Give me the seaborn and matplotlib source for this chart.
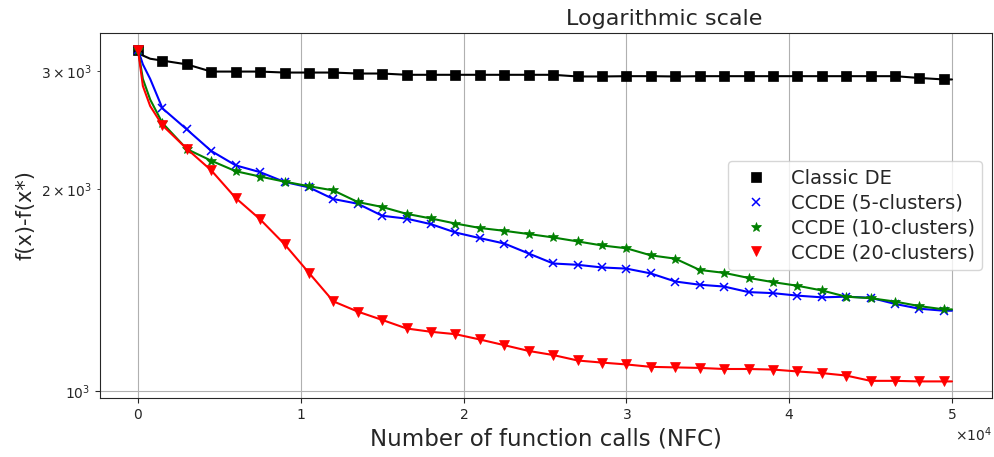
import numpy as np
import matplotlib
matplotlib.use("Agg")
import matplotlib.pyplot as plt
import seaborn as sns
from matplotlib.lines import Line2D

# Checkpoints (number of function calls) at which the best error is recorded
nfc_marks = np.arange(0, 49501, 1500)
nfc_early = [300, 750]
nfc_final = 50000

# Best-so-far error f(x) - f(x*) at every checkpoint
classic_de = [3230, 3110, 3070, 2995, 2995, 2995, 2985, 2985, 2985, 2975,
              2975, 2962, 2962, 2962, 2962, 2962, 2962, 2962, 2945, 2945,
              2948, 2948, 2945, 2948, 2948, 2948, 2948, 2948, 2948, 2948,
              2948, 2948, 2930, 2915]
classic_de_early = [3165, 3130]

ccde_5 = [3230, 2640, 2455, 2280, 2170, 2120, 2050, 2012, 1933, 1902,
          1825, 1807, 1773, 1723, 1690, 1659, 1603, 1549, 1542, 1528,
          1522, 1497, 1456, 1440, 1431, 1404, 1399, 1387, 1379, 1382,
          1377, 1348, 1326, 1317]
ccde_5_early = [3070, 2920]

ccde_10 = [3230, 2510, 2295, 2205, 2127, 2088, 2052, 2020, 1991, 1913,
           1881, 1837, 1808, 1777, 1750, 1733, 1714, 1694, 1671, 1648,
           1632, 1593, 1575, 1515, 1500, 1474, 1453, 1435, 1412, 1382,
           1375, 1359, 1338, 1323]
ccde_10_early = [2920, 2720]

ccde_20 = [3230, 2490, 2297, 2133, 1940, 1803, 1655, 1500, 1360, 1313,
           1276, 1239, 1225, 1215, 1193, 1170, 1147, 1131, 1110, 1102,
           1095, 1086, 1084, 1082, 1078, 1078, 1076, 1069, 1063, 1054,
           1035, 1035, 1033, 1033]
ccde_20_early = [2850, 2660]

labels = ["Classic DE", "CCDE (5-clusters)", "CCDE (10-clusters)", "CCDE (20-clusters)"]
colors = ["black", "blue", "green", "red"]
markers = ["s", "x", "*", "v"]
marker_sizes = [6.5, 6, 7.5, 7]
edge_widths = [0.5, 1.1, 0.5, 0.5]

series = [(classic_de, classic_de_early), (ccde_5, ccde_5_early),
          (ccde_10, ccde_10_early), (ccde_20, ccde_20_early)]

sns.set_style("ticks")
plt.rcParams["font.family"] = ["DejaVu Sans"]

fig = plt.figure(figsize=(9.94, 4.57), dpi=100)
ax = fig.add_axes([0.1006, 0.1291, 0.8974, 0.7987])

for (vals, early), label, color, marker, ms, mew in zip(series, labels, colors, markers,
                                                        marker_sizes, edge_widths):
    x = [nfc_marks[0]] + nfc_early + list(nfc_marks[1:]) + [nfc_final]
    y = [vals[0]] + early + vals[1:] + [vals[-1]]
    mark_idx = [0] + list(range(1 + len(nfc_early), len(x) - 1))
    sns.lineplot(x=x, y=y, ax=ax, color=color, marker=marker, markevery=mark_idx,
                 markersize=ms, markeredgecolor=color, markeredgewidth=mew,
                 linewidth=1.5, estimator=None, sort=False, legend=False)

ax.set_yscale("log")
ax.set_xlim(-2334, 52457)
ax.grid(True, which="major", color="#b0b0b0", linewidth=0.8)
ax.ticklabel_format(axis="x", style="sci", scilimits=(0, 0), useMathText=True)
ax.tick_params(axis="both", which="both", labelsize=10)
ax.xaxis.get_offset_text().set_fontsize(10)

ax.set_title("Logarithmic scale", fontsize=16, x=0.633)
ax.set_xlabel("Number of function calls (NFC)", fontsize=16.5)
ax.set_ylabel("f(x)-f(x*)", fontsize=15)

handles = [Line2D([], [], linestyle="None", marker=m, color=c, markeredgecolor=c,
                  markersize=ms, markeredgewidth=mew)
           for m, c, ms, mew in zip(markers, colors, marker_sizes, edge_widths)]
ax.legend(handles, labels, loc="center right", fontsize=14, labelspacing=0.3,
          frameon=True, framealpha=0.8, edgecolor="0.8", fancybox=True)

fig.savefig("out.png", dpi=100)
